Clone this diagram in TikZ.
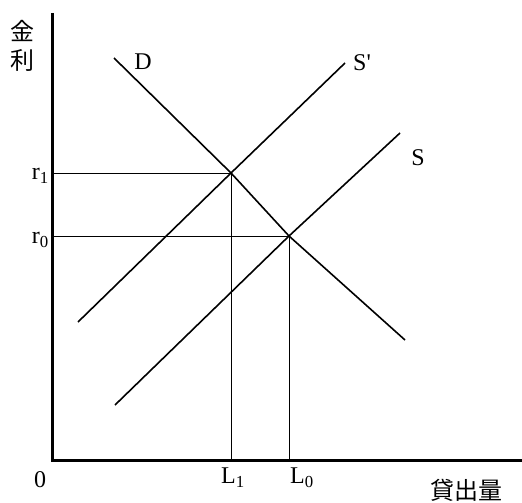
\documentclass[tikz,border=0pt]{standalone}
\usepackage{fontspec}
\setmainfont{Liberation Serif}[Ligatures=TeXOff]
\newfontfamily\jpfont{Noto Sans CJK JP}
\begin{document}
\begin{tikzpicture}[x=1pt,y=-1pt,
  lbl/.style={font=\fontsize{24}{26}\selectfont, inner sep=1pt},
  jlbl/.style={font=\jpfont\fontsize{24}{29}\selectfont, inner sep=1pt, align=center},
  curve/.style={line width=1.6pt},
  guide/.style={line width=0.9pt}]
\useasboundingbox (0,0) rectangle (522,503);
% axes
\coordinate (o) at (52,460);
\coordinate (ytop) at (52,13);
\coordinate (xend) at (522,460);
\draw[line width=3pt] (ytop) -- (o) -- (xend);
% equilibrium points
\coordinate (e1) at (231,173);
\coordinate (e0) at (289,236);
\coordinate (r1y) at (52,173);
\coordinate (r0y) at (52,236);
\coordinate (l1x) at (231,460);
\coordinate (l0x) at (289,460);
\draw[guide] (r1y) -- (e1) -- (l1x);
\draw[guide] (r0y) -- (e0) -- (l0x);
% demand and supply
\coordinate (d1) at (114,58);
\coordinate (d2) at (405,340);
\coordinate (sp1) at (78,322);
\coordinate (sp2) at (345,63);
\coordinate (s1) at (115,405);
\coordinate (s2) at (400,133);
\draw[curve] (d1) -- (e1) -- (e0) -- (d2);
\draw[curve] (sp1) -- (e1) -- (sp2);
\draw[curve] (s1) -- (e0) -- (s2);
% labels
\node[lbl] (dl) at (143,62) {D};
\node[lbl] (spl) at (362,63) {S'};
\node[lbl] (sl) at (418,158) {S};
\node[lbl,anchor=east] (r1) at (50,176) {r\textsubscript{1}};
\node[lbl,anchor=east] (r0) at (50,240) {r\textsubscript{0}};
\node[lbl] (l1) at (233,478) {L\textsubscript{1}};
\node[lbl] (l0) at (302,478) {L\textsubscript{0}};
\node[lbl] (zero) at (40,480) {0};
\node[jlbl] (xl) at (466,490) {貸出量};
\node[jlbl] (yl) at (22,46) {金\\利};
\end{tikzpicture}
\end{document}
